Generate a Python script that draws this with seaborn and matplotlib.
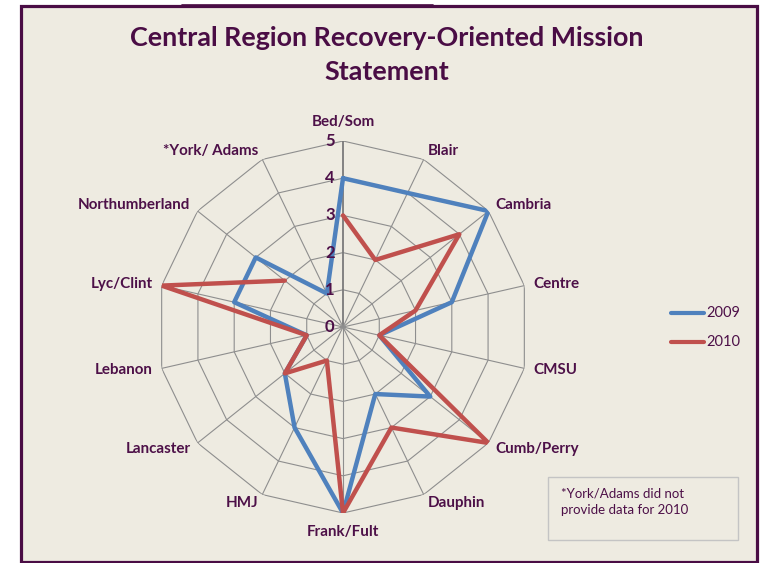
import numpy as np
import pandas as pd
import matplotlib
matplotlib.use("Agg")
import matplotlib.pyplot as plt
from matplotlib.patches import Rectangle
from matplotlib.lines import Line2D
import seaborn as sns

# Counties / joinders on the radar, clockwise from the top
categories = ["Bed/Som", "Blair", "Cambria", "Centre", "CMSU", "Cumb/Perry",
              "Dauphin", "Frank/Fult", "HMJ", "Lancaster", "Lebanon",
              "Lyc/Clint", "Northumberland", "*York/ Adams"]
scores_2009 = [4, 4, 5, 3, 1, 3, 2, 5, 3, 2, 1, 3, 3, 1]
scores_2010 = [3, 2, 4, 2, 1, 5, 3, 5, 1, 2, 1, 5, 2, np.nan]
series_names = ["2009", "2010"]
radial_ticks = [0, 1, 2, 3, 4, 5]
title_text = "Central Region Recovery-Oriented Mission\nStatement"
note_text = "*York/Adams did not\nprovide data for 2010"

BG = "#EEEBE1"
PURPLE = "#4A0D45"
TEXT = "#4D1048"
GRID = "#8E8E8E"
COLORS = {"2009": "#4F81BD", "2010": "#C0504D"}

sns.set_theme(style="white")
plt.rcParams["font.family"] = ["Lato", "DejaVu Sans"]

W, H = 765, 563
fig = plt.figure(figsize=(W / 100, H / 100), dpi=100)
fig.patch.set_facecolor("white")

# Outer chart frame
fig.patches.append(Rectangle((20.5 / W, 1.5 / H), 736 / W, 555.5 / H,
                             transform=fig.transFigure, facecolor=BG,
                             edgecolor=PURPLE, linewidth=2.3, zorder=-5))
fig.lines.append(Line2D([182 / W, 433 / W], [558.5 / H, 558.5 / H],
                        transform=fig.transFigure, color=PURPLE, lw=1.2,
                        zorder=-4))

fig.text(387 / W, 1 - 54.5 / H, title_text, ha="center", va="center",
         fontsize=19.4, fontweight="bold", color=PURPLE, linespacing=1.5)

cx, cy, R = 343, 327, 186
ax = fig.add_axes([(cx - R) / W, (H - cy - R) / H, 2 * R / W, 2 * R / H],
                  projection="polar")
ax.set_zorder(2)
ax.set_facecolor("none")
ax.set_theta_zero_location("N")
ax.set_theta_direction(-1)
ax.set_ylim(0, 5)
ax.grid(False)
ax.spines["polar"].set_visible(False)
ax.set_xticks([])
ax.set_yticks([])

n = len(categories)
angles = np.arange(n) * 2 * np.pi / n

# Polygonal rings and spokes
ring_theta = np.append(angles, angles[0])
for r in radial_ticks[1:]:
    ax.plot(ring_theta, [r] * (n + 1), color=GRID, lw=0.8, zorder=1)
for i, a in enumerate(angles):
    ax.plot([a, a], [0, 5], color="#7A7A7A" if i == 0 else GRID,
            lw=1.3 if i == 0 else 0.8, zorder=1)

# Long table of scores; the 2009 loop closes, 2010 breaks at the missing value
rows = []
for name, vals in zip(series_names, [scores_2009, scores_2010]):
    vals = list(vals)
    closed = not any(pd.isna(v) for v in vals)
    order = list(range(n)) + ([0] if closed else [])
    seg = 0
    for step, idx in enumerate(order):
        v = vals[idx]
        if pd.isna(v):
            seg += 1
            continue
        rows.append({"year": name, "segment": f"{name}-{seg}", "step": step,
                     "theta": angles[idx], "score": v})
df = pd.DataFrame(rows)

sns.lineplot(data=df, x="theta", y="score", hue="year", units="segment",
             estimator=None, sort=False, palette=COLORS, linewidth=3.2,
             ax=ax, legend=False, zorder=3)
ax.set_xlabel("")
ax.set_ylabel("")
ax.set_ylim(0, 5)
ax.set_xticks([])
ax.set_yticks([])

# Category labels just outside the outer ring
for a, lab in zip(angles, categories):
    s, c = np.sin(a), np.cos(a)
    if abs(s) < 0.01:
        ha = "center"
        va = "bottom" if c > 0 else "top"
        off = (0, 8.5 if c > 0 else -8.5)
    else:
        ha = "left" if s > 0 else "right"
        va = "center"
        off = (6.5 * s, 6.5 * c)
    ax.annotate(lab, xy=(a, 5), xytext=off, textcoords="offset points",
                ha=ha, va=va, fontsize=10.9, fontweight="bold", color=TEXT,
                annotation_clip=False)

# Radial value labels along the top spoke
for r in radial_ticks:
    ax.annotate(str(r), xy=(0, r), xytext=(-6, 0), textcoords="offset points",
                ha="right", va="center", fontsize=12, fontweight="bold",
                color=TEXT, annotation_clip=False)

# Legend
for k, name in enumerate(series_names):
    y = 1 - (313 + 29 * k) / H
    fig.lines.append(Line2D([671 / W, 704 / W], [y, y], transform=fig.transFigure,
                            color=COLORS[name], lw=3.0, solid_capstyle="round"))
    fig.text(706 / W, y, name, ha="left", va="center", fontsize=10.5, color=TEXT)

# Footnote box
fig.patches.append(Rectangle((548 / W, 1 - 540 / H), 190 / W, 63 / H,
                             transform=fig.transFigure, facecolor="none",
                             edgecolor="#C4C4C4", linewidth=1.0))
fig.text(561 / W, 1 - 502 / H, note_text, ha="left", va="center",
         fontsize=9.5, color=TEXT, linespacing=1.45)

fig.savefig("out.png", dpi=100, facecolor=fig.get_facecolor())
